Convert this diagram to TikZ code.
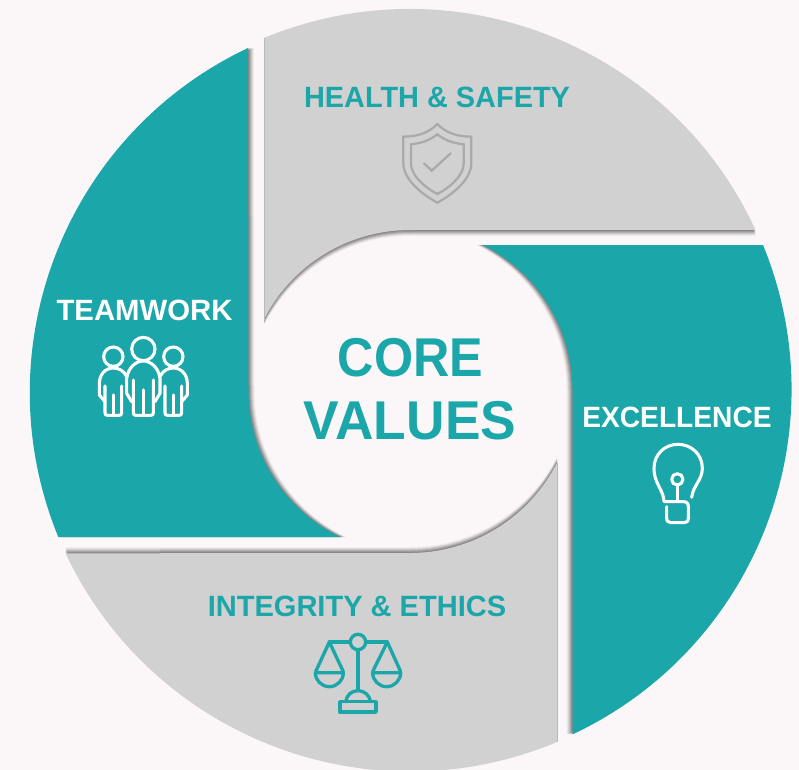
\documentclass[tikz,border=0pt]{standalone}
\usepackage{fontspec}
\usepackage{graphicx}
\setmainfont{Liberation Sans}
\definecolor{bgc}{HTML}{FBF7F8}
\definecolor{tealc}{HTML}{1BA6A9}
\definecolor{grayc}{HTML}{D1D1D1}
\definecolor{iconc}{HTML}{AAAAAA}
\definecolor{edgec}{HTML}{B9B9B9}
\newcommand{\topshape}{(264,38) arc[start angle=-112.5,end angle=-24.85,radius=381] -- (410,230) arc[start angle=-90,end angle=-152.8,radius=164] -- cycle}
\newcommand{\rightshape}{(482,245) -- (763,245) arc[start angle=-22.3,end angle=64.8,radius=381] -- (572.5,390) arc[start angle=0,end angle=-63.6,radius=162] -- cycle}
\newcommand{\bottomshape}{(557,463) -- (557,742) arc[start angle=67.3,end angle=154.7,radius=381] -- (410,553) arc[start angle=90,end angle=27,radius=165] -- cycle}
\newcommand{\leftshape}{(248,48) arc[start angle=244.7,end angle=157.7,radius=381] -- (340,537) arc[start angle=115.8,end angle=180,radius=162] -- cycle}
\newcommand{\softshadow}[3]{%
  \foreach \k/\o in {1/.13,2/.12,3/.11,4/.09,5/.07,6/.04}{\fill[black,opacity=\o,shift={({#1*\k},{#2*\k})}] #3;}}
\tikzset{
  label/.style={font=\bfseries\fontsize{22}{24}\selectfont,inner sep=0pt,anchor=center},
  title/.style={font=\bfseries\fontsize{41}{46}\selectfont,inner sep=0pt,anchor=center,text=tealc},
  iconw/.style={draw=white,line width=2.3pt,line cap=round,line join=round},
  icont/.style={draw=tealc,line width=2.5pt,line cap=round,line join=round},
  icong/.style={draw=iconc,line width=1.7pt,line join=miter,line cap=round},
  edgeline/.style={draw=edgec,line width=.7pt}
}
\begin{document}
\begin{tikzpicture}[x=.75pt,y=.75pt,yscale=-1]
\useasboundingbox (0,0) rectangle (799,770);
\fill[bgc] (0,0) rectangle (799,770);
\softshadow{0}{1}{\topshape}
\softshadow{-1}{0}{\rightshape}
\softshadow{0}{-1}{\bottomshape}
\softshadow{1}{0}{\leftshape}
\fill[grayc] \topshape;
\fill[grayc] \bottomshape;
\fill[tealc] \rightshape;
\fill[tealc] \leftshape;
\draw[edgeline] (264,38) -- (264,320);
\draw[edgeline] (557,463) -- (557,742);
\node[label,text=tealc] (health) at (437,97) {\scalebox{.985}[1]{HEALTH \& SAFETY}};
\node[label,text=white] (team) at (144.5,310) {TEAMWORK};
\node[label,text=white] (exc) at (677,417) {\scalebox{.96}[1]{EXCELLENCE}};
\node[label,text=tealc] (integ) at (357,606) {\scalebox{.99}[1]{INTEGRITY \& ETHICS}};
\node[title] (core) at (410.5,357.5) {\scalebox{.92}[1]{CORE}};
\node[title] (values) at (410,421) {\scalebox{.975}[1]{VALUES}};
% shield
\begin{scope}[shift={(380,120)},scale=1/3]
\draw[icong] (172,12) .. controls (145,40) and (110,50) .. (70,50) -- (70,130) .. controls (70,175) and (120,220) .. (172,248) .. controls (224,220) and (274,175) .. (274,130) -- (274,50) .. controls (234,50) and (199,40) .. (172,12) -- cycle;
\draw[icong] (172,43) .. controls (150,60) and (125,70) .. (93,73) -- (93,130) .. controls (93,165) and (130,200) .. (172,222) .. controls (214,200) and (251,165) .. (251,130) -- (251,73) .. controls (219,70) and (194,60) .. (172,43) -- cycle;
\draw[icong] (132,130) -- (155,152) -- (212,100);
\end{scope}
% people
\begin{scope}[shift={(20,280)},scale=1/3]
\draw[iconw] (370,207) circle (35);
\draw[iconw] (280,230) circle (29);
\draw[iconw] (460,230) circle (29);
\draw[iconw] (320,340) -- (320,295) .. controls (325,260) and (350,243) .. (370,243) .. controls (390,243) and (415,260) .. (420,295) -- (420,340);
\draw[iconw] (340,300) -- (340,398) .. controls (340,404) and (342,406) .. (348,406) -- (392,406) .. controls (398,406) and (400,404) .. (400,398) -- (400,300);
\draw[iconw] (370,330) -- (370,406);
\draw[iconw] (320,290) .. controls (312,272) and (296,264) .. (280,264) .. controls (255,264) and (238,285) .. (238,310) -- (238,345) -- (255,365);
\draw[iconw] (255,318) -- (255,398) .. controls (255,404) and (257,406) .. (263,406) -- (297,406) .. controls (303,406) and (305,404) .. (305,398) -- (305,318);
\draw[iconw] (280,345) -- (280,406);
\draw[iconw] (320,340) -- (335,365);
\draw[iconw] (420,340) -- (405,365);
\draw[iconw] (420,290) .. controls (428,272) and (444,264) .. (460,264) .. controls (485,264) and (502,285) .. (502,310) -- (502,345) -- (485,365);
\draw[iconw] (435,318) -- (435,398) .. controls (435,404) and (437,406) .. (443,406) -- (477,406) .. controls (483,406) and (485,404) .. (485,398) -- (485,318);
\draw[iconw] (460,345) -- (460,406);
\end{scope}
% bulb
\begin{scope}[shift={(540,380)},scale=1/3]
\draw[iconw] (372,362) .. controls (368,325) and (342,310) .. (342,265) .. controls (342,222) and (375,193) .. (414,193) .. controls (453,193) and (487,222) .. (487,265) .. controls (487,300) and (460,315) .. (455,352);
\draw[iconw] (372,365) -- (430,365) .. controls (440,365) and (445,370) .. (445,380) -- (445,414) .. controls (445,424) and (440,428) .. (432,428) -- (394,428) .. controls (385,428) and (380,424) .. (380,414) -- (380,380);
\draw[iconw] (412,315) -- (412,365);
\draw[iconw] (412,298) circle (17);
\end{scope}
% scales
\begin{scope}[shift={(280,520)},scale=1/3]
\draw[icont] (234,366) circle (23);
\draw[icont] (148,366) -- (211,366);
\draw[icont] (257,366) -- (322,366);
\draw[icont] (234,390) -- (234,510);
\draw[icont] (197,545) .. controls (200,525) and (215,512) .. (234,512) .. controls (253,512) and (268,525) .. (272,545);
\draw[icont] (180,545) rectangle (288,576);
\draw[icont] (190,455) -- (148,366) -- (107,455);
\draw[icont] (278,455) -- (322,366) -- (362,455);
\draw[icont] (106,458) -- (190,458) arc[start angle=0,end angle=180,radius=42];
\draw[icont] (278,458) -- (362,458) arc[start angle=0,end angle=180,radius=42];
\end{scope}
\end{tikzpicture}
\end{document}
